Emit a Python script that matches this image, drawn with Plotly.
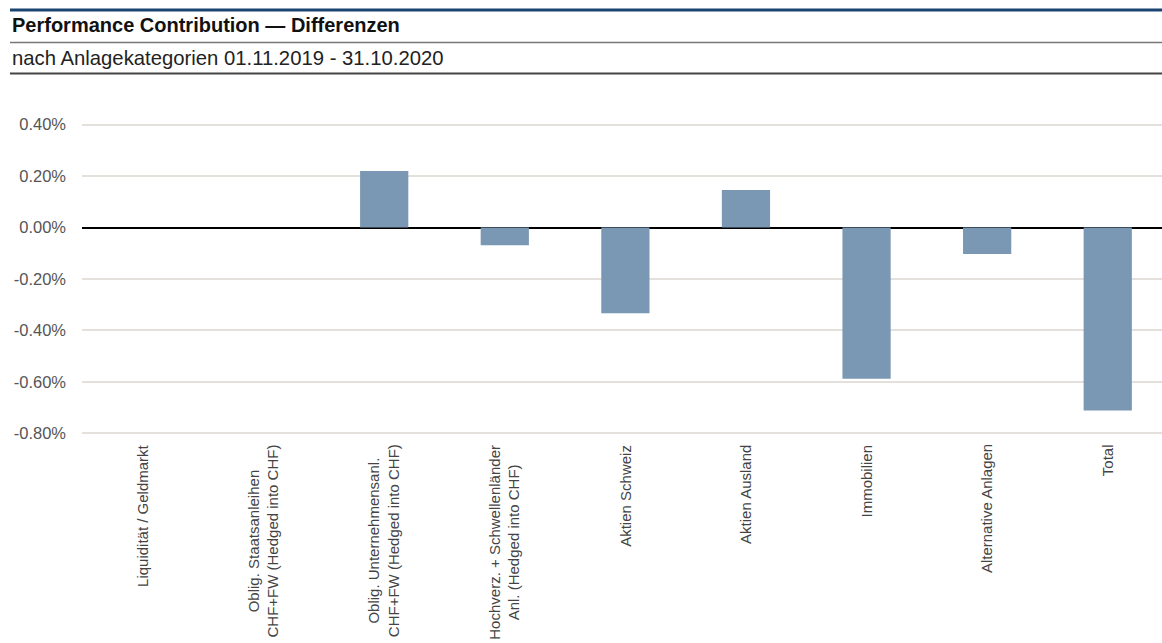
import plotly.graph_objects as go

categories = [
    "Liquidität / Geldmarkt",
    "Oblig. Staatsanleihen<br>CHF+FW (Hedged into CHF)",
    "Oblig. Unternehmensanl.<br>CHF+FW (Hedged into CHF)",
    "Hochverz. + Schwellenländer<br>Anl. (Hedged into CHF)",
    "Aktien Schweiz",
    "Aktien Ausland",
    "Immobilien",
    "Alternative Anlagen",
    "Total",
]
values = [0.0, 0.0, 0.22, -0.069, -0.333, 0.146, -0.588, -0.103, -0.711]
tick_vals = [0.4, 0.2, 0.0, -0.2, -0.4, -0.6, -0.8]
tick_labels = ["0.40%", "0.20%", "0.00%", "-0.20%", "-0.40%", "-0.60%", "-0.80%"]

title = "Performance Contribution — Differenzen"
subtitle = "nach Anlagekategorien 01.11.2019 - 31.10.2020"

FONT = "Liberation Sans, Arial, sans-serif"
W, H = 1162, 643
L = 82
PX_PER_UNIT = 257.0          # pixels per 1 percentage point
Y_MIN, Y_MAX = -0.81, 0.41
T = 125 - (Y_MAX - 0.4) * PX_PER_UNIT
B = H - (433 + (-0.8 - Y_MIN) * PX_PER_UNIT)
plot_w = W - L

xidx = list(range(len(categories)))

fig = go.Figure()
fig.add_trace(go.Bar(
    x=xidx, y=values, width=0.4,
    marker=dict(color="#7a98b3", line=dict(width=0)),
    hoverinfo="skip",
))

fig.update_layout(
    width=W, height=H,
    margin=dict(l=L, r=0, t=T, b=B, pad=0),
    paper_bgcolor="white", plot_bgcolor="white",
    showlegend=False,
    font=dict(family=FONT, color="#555555"),
    xaxis=dict(
        range=[-0.506, 8.45], showticklabels=False, showgrid=False,
        zeroline=False, showline=False, ticks="", fixedrange=True,
    ),
    yaxis=dict(
        range=[Y_MIN, Y_MAX], tickvals=tick_vals, ticktext=tick_labels,
        showgrid=True, gridcolor="#e4e1dc", gridwidth=2,
        zeroline=True, zerolinecolor="#000000", zerolinewidth=2.2,
        showline=False, ticks="", ticklabelstandoff=15,
        tickfont=dict(size=16.5, color="#555555", family=FONT),
    ),
)

annotations = []
for i, c in enumerate(categories):
    annotations.append(dict(
        x=i, xref="x", y=0, yref="paper", yanchor="top", xanchor="center",
        yshift=-(445 - (H - B)) + 2, text=c, textangle=-90, align="center",
        showarrow=False, borderpad=0,
        font=dict(size=15, color="#444444", family=FONT),
    ))

annotations.append(dict(
    x=0, xref="paper", y=1, yref="paper", xanchor="left", yanchor="middle",
    xshift=10 - L, yshift=T - 25, text="<b>" + title + "</b>", showarrow=False,
    font=dict(size=20, color="#111111", family=FONT),
))
annotations.append(dict(
    x=0, xref="paper", y=1, yref="paper", xanchor="left", yanchor="middle",
    xshift=10 - L, yshift=T - 58, text=subtitle, showarrow=False,
    font=dict(size=20.3, color="#222222", family=FONT),
))
fig.update_layout(annotations=annotations)

def hline(ypix, color, width):
    return dict(
        type="line", xref="paper", yref="paper",
        xsizemode="pixel", xanchor=0, x0=10 - L, x1=plot_w + 5,
        ysizemode="pixel", yanchor=1, y0=T - ypix, y1=T - ypix,
        line=dict(color=color, width=width),
    )

fig.update_layout(shapes=[
    hline(10.5, "#1a4470", 3),
    hline(43, "#777777", 1.5),
    hline(74, "#444444", 2),
])

fig.write_html(
    "out.html",
    config={"displayModeBar": False},
    post_script="document.body.style.margin='0';document.body.style.overflow='hidden';",
)
